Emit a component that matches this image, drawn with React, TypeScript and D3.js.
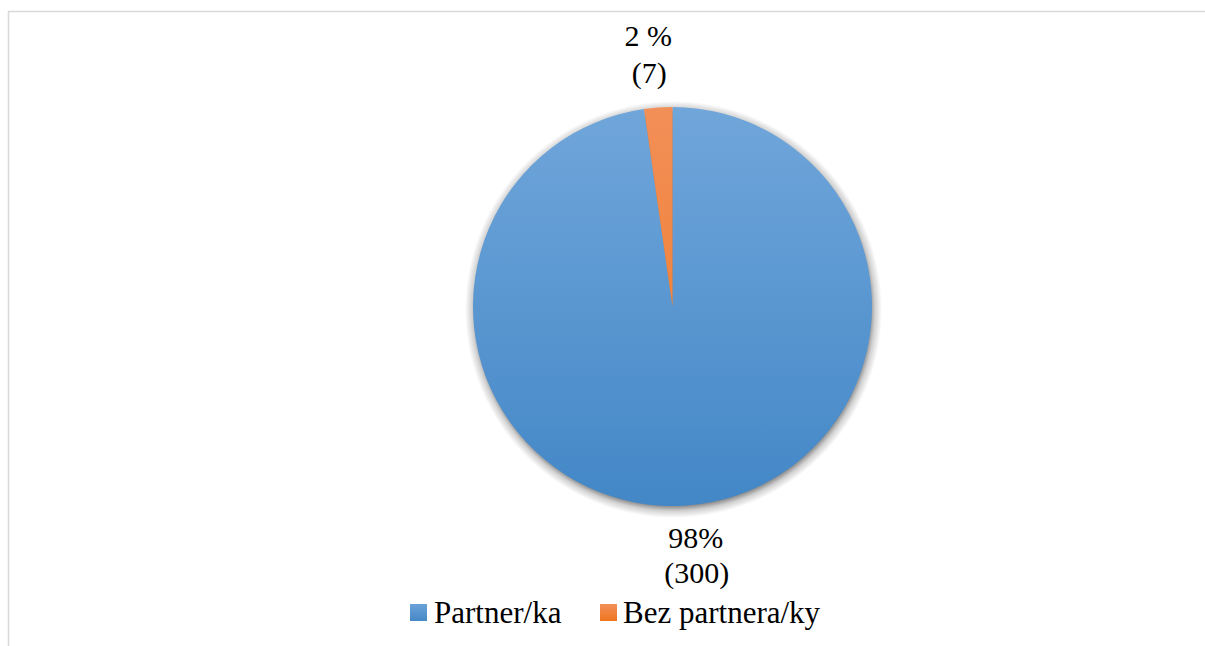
import React from "react";
import * as d3 from "d3";

const categories = ["Partner/ka", "Bez partnera/ky"];
const counts = [300, 7];
const percentLabels = ["98%", "2 %"];
const countLabels = ["(300)", "(7)"];

const W = 1205;
const H = 646;
const CX = 672.5;
const CY = 306.5;
const R = 199.5;
const FONT = "Liberation Serif";

const gradients = [
  { id: "gBlue", top: "#70a6da", bottom: "#4387c7" },
  { id: "gOrange", top: "#f28f58", bottom: "#f07922" },
];
const legendColors = [
  { top: "#6aa2d8", bottom: "#4688c7" },
  { top: "#f28f58", bottom: "#ef7620" },
];

const labelOffsets = [
  { dx: 9, dy: 43, gap: 35 },
  { dx: -10, dy: -62, gap: 37 },
];

export default function App() {
  const data = categories.map((c, i) => ({ name: c, value: counts[i] }));
  const pie = d3
    .pie<{ name: string; value: number }>()
    .value((d) => d.value)
    .sort(null)
    .startAngle(0)
    .endAngle(2 * Math.PI);
  const arcs = pie(data);
  const arcGen = d3
    .arc<d3.PieArcDatum<{ name: string; value: number }>>()
    .innerRadius(0)
    .outerRadius(R);
  const edge = d3
    .arc<d3.PieArcDatum<{ name: string; value: number }>>()
    .innerRadius(R)
    .outerRadius(R);

  const legendY = 604;
  const legendItems = [
    { x: 410, textX: 434 },
    { x: 600, textX: 623 },
  ];

  const SR = R + 9;

  return (
    <div style={{ fontFamily: FONT }}>
      <style>{`svg text { font-family: "Liberation Serif", "Times New Roman", serif !important; }`}</style>
      <svg
        width={W}
        height={H}
        fontFamily={FONT}
        style={{ position: "absolute", left: 0, top: 0, fontFamily: FONT }}
      >
        <defs>
          {gradients.map((g) => (
            <linearGradient
              key={g.id}
              id={g.id}
              gradientUnits="userSpaceOnUse"
              x1={0}
              y1={-R}
              x2={0}
              y2={R}
            >
              <stop offset="0%" stopColor={g.top} />
              <stop offset="100%" stopColor={g.bottom} />
            </linearGradient>
          ))}
          {legendColors.map((g, i) => (
            <linearGradient key={i} id={`lg${i}`} x1="0" y1="0" x2="0" y2="1">
              <stop offset="0%" stopColor={g.top} />
              <stop offset="100%" stopColor={g.bottom} />
            </linearGradient>
          ))}
          <radialGradient id="shadowGrad" gradientUnits="userSpaceOnUse" cx={0} cy={0} r={SR}>
            <stop offset={(R - 4) / SR} stopColor="#000" stopOpacity={0.5} />
            <stop offset={(R + 2) / SR} stopColor="#000" stopOpacity={0.18} />
            <stop offset="100%" stopColor="#000" stopOpacity={0} />
          </radialGradient>
        </defs>

        <rect
          x={8.5}
          y={11.5}
          width={W + 20}
          height={H + 20}
          fill="none"
          stroke="#d9d9d9"
          strokeWidth={1.5}
        />

        <g transform={`translate(${CX + 1},${CY + 3})`}>
          <circle r={SR} fill="url(#shadowGrad)" />
        </g>

        <g transform={`translate(${CX},${CY})`}>
          {arcs.map((a, i) => (
            <path key={i} d={arcGen(a) || ""} fill={`url(#${gradients[i].id})`} />
          ))}
        </g>

        {arcs.map((a, i) => {
          const [ex, ey] = edge.centroid(a);
          const off = labelOffsets[i];
          const x = CX + ex + off.dx;
          const y = CY + ey + off.dy;
          return (
            <React.Fragment key={i}>
              <text
                x={x}
                y={y}
                fontSize={30}
                fontFamily={FONT}
                textAnchor="middle"
                style={{ fontFamily: FONT }}
              >
                {percentLabels[i]}
              </text>
              <text
                x={x + 1}
                y={y + off.gap}
                fontSize={30}
                fontFamily={FONT}
                textAnchor="middle"
                style={{ fontFamily: FONT }}
              >
                {countLabels[i]}
              </text>
            </React.Fragment>
          );
        })}

        {categories.map((c, i) => (
          <React.Fragment key={c}>
            <rect
              x={legendItems[i].x}
              y={legendY}
              width={17}
              height={17}
              fill={`url(#lg${i})`}
            />
            <text
              x={legendItems[i].textX}
              y={legendY + 19}
              fontSize={31}
              fontFamily={FONT}
              style={{ fontFamily: FONT }}
            >
              {c}
            </text>
          </React.Fragment>
        ))}
      </svg>
    </div>
  );
}
